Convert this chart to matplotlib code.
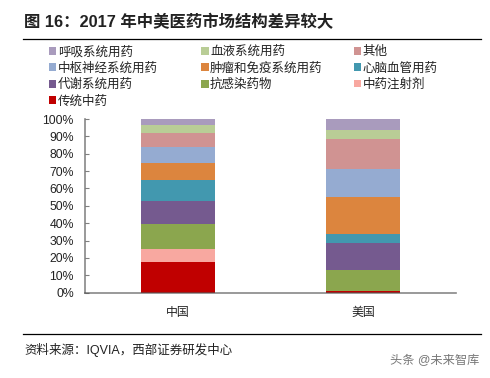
"""
2017 China vs US pharma market structure - stacked share bars.
"""
import matplotlib
matplotlib.use("Agg")
import matplotlib.pyplot as plt
import numpy as np

plt.rcParams["font.family"] = ["Liberation Sans", "Noto Sans CJK SC", "DejaVu Sans"]

countries = ["中国", "美国"]
y_ticks = [0, 10, 20, 30, 40, 50, 60, 70, 80, 90, 100]

# bottom of the stack first
traditional = [17.7, 1.0]
injection = [7.3, 0.0]
anti_infect = [14.8, 11.9]
metabolic = [12.9, 15.9]
cardio = [12.1, 4.8]
tumor = [9.8, 21.4]
cns = [9.2, 16.4]
other = [7.9, 17.1]
blood = [4.9, 5.2]
respiratory = [3.5, 6.3]

stack = [
    ("传统中药", traditional, "#C00000"),
    ("中药注射剂", injection, "#F8A8A0"),
    ("抗感染药物", anti_infect, "#8BA64E"),
    ("代谢系统用药", metabolic, "#755A8F"),
    ("心脑血管用药", cardio, "#4298AF"),
    ("肿瘤和免疫系统用药", tumor, "#DC853E"),
    ("中枢神经系统用药", cns, "#95ABD1"),
    ("其他", other, "#D09392"),
    ("血液系统用药", blood, "#B9CD96"),
    ("呼吸系统用药", respiratory, "#A99BBD"),
]
legend_cols = [
    ["呼吸系统用药", "中枢神经系统用药", "代谢系统用药", "传统中药"],
    ["血液系统用药", "肿瘤和免疫系统用药", "抗感染药物"],
    ["其他", "心脑血管用药", "中药注射剂"],
]

W, H = 490, 378
fig = plt.figure(figsize=(W / 100, H / 100), dpi=100)
ax = fig.add_axes([85 / W, (H - 292.7) / H, 371 / W, 173.7 / H])

x = np.arange(len(countries))
bottom = np.zeros(len(countries))
handles = {}
for name, vals, color in stack:
    bars = ax.bar(x, vals, width=0.4, bottom=bottom, color=color,
                  edgecolor="none", label=name)
    handles[name] = bars
    bottom += np.array(vals)

ax.set_xlim(-0.5, 1.5)
ax.set_ylim(0, 100)
ax.set_xticks(x)
ax.set_xticklabels(countries, fontsize=8.6, color="#222222")
ax.set_yticks(y_ticks)
ax.set_yticklabels([f"{t}%" for t in y_ticks], fontsize=8.8, color="#222222")
ax.tick_params(axis="x", length=0, pad=10)
ax.tick_params(axis="y", direction="in", length=3, width=0.8, color="#808080", pad=8)
for s in ["top", "right"]:
    ax.spines[s].set_visible(False)
# see-through grey so the bars darken under the axis line, as in the reference
for s in ["left", "bottom"]:
    ax.spines[s].set_color("#555555")
    ax.spines[s].set_alpha(0.7)
    ax.spines[s].set_linewidth(1.2)

# one legend per column, the reference columns sit at an even pitch
for i, names in enumerate(legend_cols):
    fig.legend([handles[n] for n in names], names, ncol=1,
               loc="upper left", bbox_to_anchor=((48.5 + 152.5 * i) / W, 1 - 46 / H),
               frameon=False, fontsize=9.0, labelcolor="#222222",
               handlelength=0.6, handleheight=0.6, handletextpad=0.13,
               labelspacing=0.33, borderpad=0, borderaxespad=0)

# header / footer
fig.text(24 / W, 1 - 22 / H, "图 16：2017 年中美医药市场结构差异较大",
         fontsize=11.8, fontweight="bold", color="#222222", va="center")
fig.add_artist(plt.Line2D([23 / W, 481 / W], [1 - 39.3 / H] * 2, color="black", lw=0.9))
fig.add_artist(plt.Line2D([23 / W, 481 / W], [1 - 333.5 / H] * 2, color="black", lw=0.9))
fig.text(24 / W, 1 - 349.5 / H, "资料来源：IQVIA，西部证券研发中心",
         fontsize=9.0, color="#222222", va="center")
fig.text(479 / W, 1 - 361 / H, "头条 @未来智库", fontsize=8.8, color="#777777",
         ha="right", va="center")

fig.savefig("out.png", dpi=100)
